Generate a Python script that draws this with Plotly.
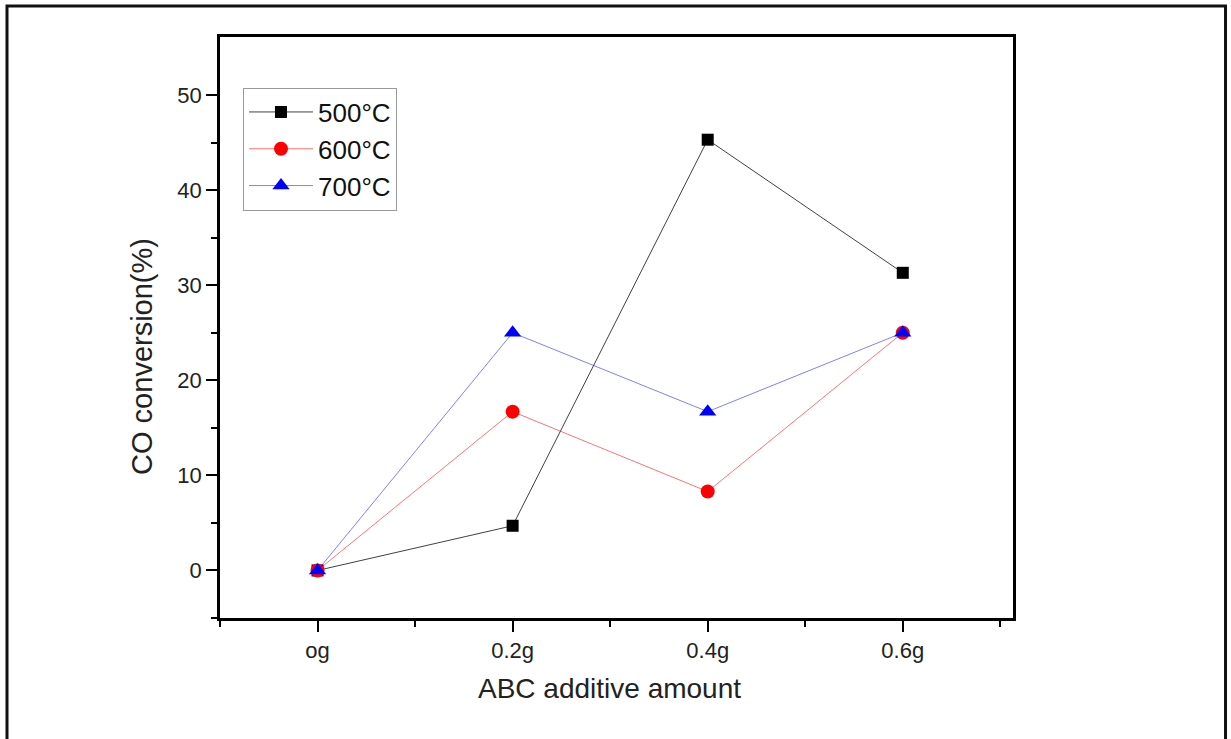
import plotly.graph_objects as go

categories = ["og", "0.2g", "0.4g", "0.6g"]
series_names = ["500°C", "600°C", "700°C"]
co_500 = [0.0, 4.7, 45.3, 31.3]
co_600 = [0.0, 16.7, 8.3, 25.0]
co_700 = [0.0, 25.0, 16.7, 25.0]

x_title = "ABC additive amount"
y_title = "CO conversion(%)"

x_idx = list(range(len(categories)))

styles = [
    dict(line=dict(color="rgba(0,0,0,0.75)", width=1), marker=dict(symbol="square", size=12, color="black")),
    dict(line=dict(color="rgba(255,0,0,0.55)", width=1), marker=dict(symbol="circle", size=14, color="red")),
    dict(line=dict(color="rgba(0,0,255,0.5)", width=1), marker=dict(symbol="triangle-up", size=15, color="blue")),
]

fig = go.Figure()
for name, vals, st, g in zip(series_names, [co_500, co_600, co_700], styles, ["a", "b", "c"]):
    fig.add_trace(go.Scatter(x=x_idx, y=vals, mode="lines+markers", name=name,
                             legendgroup=g, line=st["line"], marker=st["marker"]))

font_family = "Arial, 'Liberation Sans', sans-serif"

fig.update_layout(
    width=1231, height=739,
    margin=dict(l=220, r=218, t=37, b=121),
    paper_bgcolor="white", plot_bgcolor="white",
    font=dict(family=font_family, color="#222"),
    showlegend=True,
    legend=dict(x=0.029, y=0.913, xanchor="left", yanchor="top",
                bordercolor="#999", borderwidth=1, bgcolor="white",
                font=dict(size=26, color="#111"), tracegroupgap=0,
                itemwidth=64),
    xaxis=dict(
        range=[-0.5, 3.565], showgrid=False, zeroline=False,
        tickmode="array", tickvals=x_idx, ticktext=categories,
        ticks="outside", ticklen=11, tickwidth=2, tickcolor="black",
        showline=True, linewidth=2.5, linecolor="black", mirror=True,
        tickfont=dict(size=22, color="#222"),
        minor=dict(tickmode="array", tickvals=[-0.5, 0.5, 1.5, 2.5, 3.5],
                   ticks="outside", ticklen=6, tickwidth=2, tickcolor="black", showgrid=False),
    ),
    yaxis=dict(
        range=[-5, 56.1], showgrid=False, zeroline=False,
        tickmode="linear", tick0=0, dtick=10,
        ticks="outside", ticklen=11, tickwidth=2, tickcolor="black",
        showline=True, linewidth=2.5, linecolor="black", mirror=True,
        tickfont=dict(size=22, color="#222"),
        minor=dict(tickmode="array", tickvals=[-5, 5, 15, 25, 35, 45],
                   ticks="outside", ticklen=6, tickwidth=2,
                   tickcolor="black", showgrid=False),
    ),
    annotations=[
        dict(text=x_title, xref="paper", yref="paper", x=0.491, y=-0.1205,
             xanchor="center", yanchor="middle", showarrow=False,
             font=dict(size=28, color="#222")),
        dict(text=y_title, xref="paper", yref="paper", x=-0.0984, y=0.451,
             xanchor="center", yanchor="middle", showarrow=False, textangle=-90,
             font=dict(size=29, color="#222")),
    ],
    shapes=[dict(type="rect", xref="paper", yref="paper",
                 x0=-0.2686, x1=1.2680, y0=-0.23, y1=1.0534,
                 line=dict(color="#111", width=3), fillcolor="rgba(0,0,0,0)", layer="below")],
)

fig.write_html("out.html")
